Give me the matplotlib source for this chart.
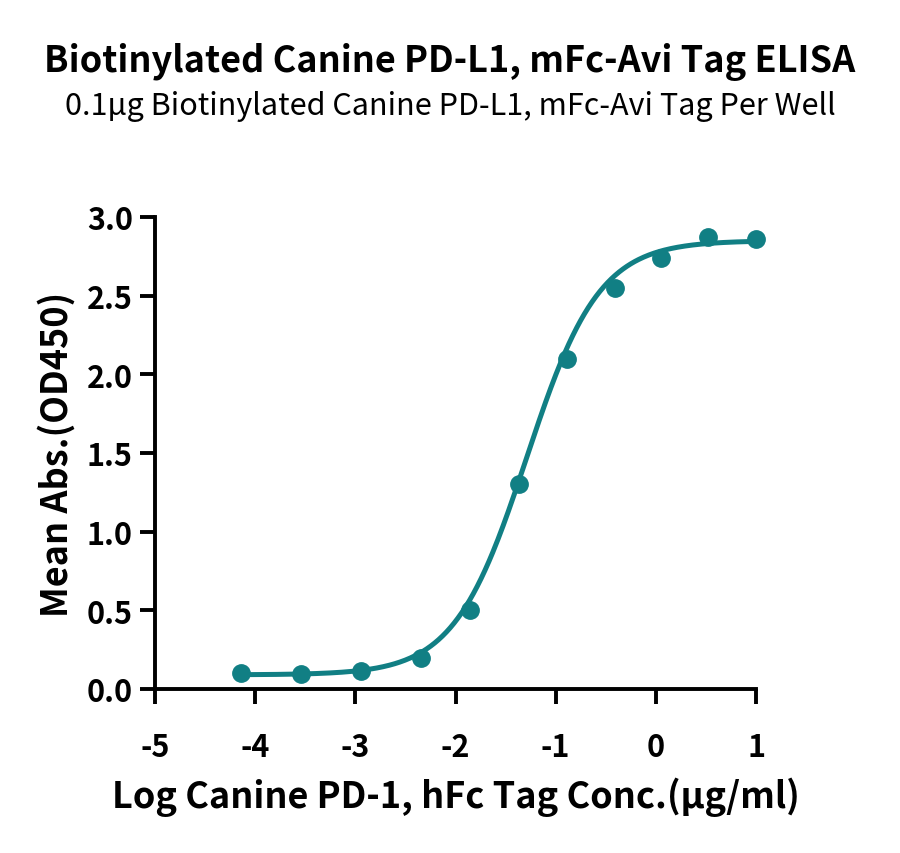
import numpy as np
import matplotlib
matplotlib.use('Agg')
import matplotlib.pyplot as plt

plt.rcParams['font.family'] = ['Noto Sans CJK SC', 'DejaVu Sans']
plt.rcParams['axes.unicode_minus'] = False

# measured points (log conc, OD450)
log_conc = [-4.14, -3.54, -2.94, -2.34, -1.86, -1.37, -0.89, -0.41, 0.05, 0.52, 1.0]
od450 = [0.10, 0.095, 0.116, 0.20, 0.50, 1.30, 2.10, 2.55, 2.74, 2.87, 2.86]

# 4PL fit parameters
bottom, top, logec50, hill = 0.09, 2.85, -1.29, 1.2

color = '#117f84'

fig = plt.figure(figsize=(9, 8.54), dpi=100)
ax = fig.add_axes([155/900, (854-690)/854, (756-155)/900, (690-218)/854])

xs = np.linspace(min(log_conc), max(log_conc), 400)
ys = bottom + (top - bottom) / (1 + 10 ** ((logec50 - xs) * hill))
ax.plot(xs, ys, color=color, lw=3.6, zorder=2, clip_on=False)
ax.plot(log_conc, od450, 'o', color=color, ms=12.5, zorder=3, clip_on=False)

ax.set_xlim(-5, 1)
ax.set_ylim(0, 3)
ax.set_xticks(range(-5, 2))
ax.set_yticks([0, 0.5, 1.0, 1.5, 2.0, 2.5, 3.0])
ax.set_yticklabels(['0.0', '0.5', '1.0', '1.5', '2.0', '2.5', '3.0'])
for s in ['top', 'right']:
    ax.spines[s].set_visible(False)
for s in ['left', 'bottom']:
    ax.spines[s].set_linewidth(2.8)
ax.tick_params(width=2.8, length=11, labelsize=22)
ax.tick_params(axis='x', pad=19)
ax.tick_params(axis='y', pad=5)
for lab in ax.get_xticklabels() + ax.get_yticklabels():
    lab.set_fontweight('black')

ax.set_xlabel('Log Canine PD-1, hFc Tag Conc.(µg/ml)', fontsize=26, fontweight='black', labelpad=10)
ax.set_ylabel('Mean Abs.(OD450)', fontsize=26, fontweight='black', labelpad=8)

fig.text(0.5, 1 - 62/854, 'Biotinylated Canine PD-L1, mFc-Avi Tag ELISA', ha='center', va='center',
         fontsize=26, fontweight='black')
fig.text(0.5, 1 - 106/854, '0.1µg Biotinylated Canine PD-L1, mFc-Avi Tag Per Well', ha='center', va='center',
         fontsize=22)

fig.savefig('out.png', dpi=100)
